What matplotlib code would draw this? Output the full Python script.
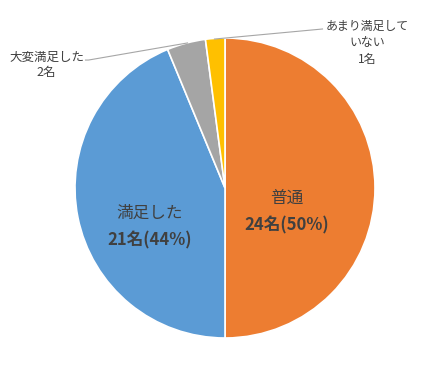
import numpy as np
import matplotlib.pyplot as plt

plt.rcParams['font.family'] = ['Noto Sans CJK JP', 'DejaVu Sans']

# datos
categorias = ['普通', '満足した', '大変満足した', 'あまり満足して\nいない']
valores = [24, 21, 2, 1]
colores = ['#ED7D31', '#5B9BD5', '#A5A5A5', '#FFC000']
total = sum(valores)

fig = plt.figure(figsize=(4.4, 3.76), dpi=100)
ax = fig.add_axes([75 / 440, 38 / 376, 300 / 440, 300 / 376])

wedges, _ = ax.pie(valores, colors=colores, startangle=90, counterclock=False,
                   radius=1.0, wedgeprops=dict(edgecolor='white', linewidth=1.2))
ax.set_xlim(-1, 1)
ax.set_ylim(-1, 1)
ax.set_aspect('auto')
ax.axis('off')

txt = '#404040'

# etiquetas internas (dos sectores grandes)
pos_in = {0: (0.41, -0.16), 1: (-0.50, -0.26)}
for i, (x, y) in pos_in.items():
    pct = round(valores[i] / total * 100)
    ax.text(x, y + 0.09, categorias[i], ha='center', va='center', fontsize=12, color=txt)
    ax.text(x, y - 0.09, f'{valores[i]}名({pct}%)', ha='center', va='center',
            fontsize=12, color=txt, fontweight='bold')

# etiquetas externas con líneas guía
ax.plot([-0.93, -0.91, -0.25], [0.853, 0.853, 0.967], color='#A6A6A6', lw=0.8, clip_on=False)
ax.text(-1.19, 0.82, f'{categorias[2]}\n{valores[2]}名', ha='center', va='center',
        fontsize=9, color=txt, linespacing=1.25)

ax.plot([-0.07, 0.65], [0.993, 1.06], color='#A6A6A6', lw=0.8, clip_on=False)
ax.text(0.95, 0.97, f'{categorias[3]}\n{valores[3]}名', ha='center', va='center',
        fontsize=8.6, color=txt, linespacing=1.35)

fig.savefig('out.png', dpi=100)
